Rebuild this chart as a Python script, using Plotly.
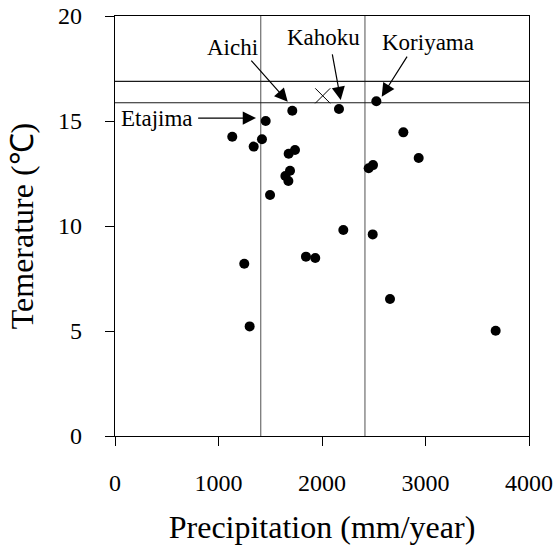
import plotly.graph_objects as go

# Site data: precipitation (mm/year) and temperature (°C)
precip = [1713, 2164, 2525, 1456, 1133, 1340, 1420, 2786, 2934, 1678, 1739,
          2451, 2493, 1691, 1646, 1675, 1498, 2206, 2490, 1249, 1845, 1935,
          2657, 1301, 3678]
temp = [15.49, 15.57, 15.94, 15.0, 14.25, 13.78, 14.13, 14.46, 13.24, 13.44,
        13.62, 12.75, 12.9, 12.63, 12.38, 12.14, 11.48, 9.81, 9.6, 8.2, 8.54,
        8.48, 6.52, 5.22, 5.01]

# Reference point (cross)
ref_precip = [2007]
ref_temp = [16.2]

# Reference ranges
vlines = [1408, 2415]
hlines = [15.87, 16.89]

x_ticks = [0, 1000, 2000, 3000, 4000]
y_ticks = [0, 5, 10, 15, 20]

# Labeled sites: name, label position, arrow tail, arrow tip
labels = ["Aichi", "Kahoku", "Koriyama", "Etajima"]
label_pos = [(1140, 18.52), (2019, 19.0), (3024, 18.76), (406, 15.14)]
arrow_tail = [(1304, 17.95), (2097, 18.24), (2831, 18.14), (789, 15.14)]
arrow_tip = [(1669, 15.92), (2181, 16.0), (2577, 16.16), (1362, 15.14)]

FONT = "Liberation Serif, Times New Roman, serif"

fig = go.Figure()

fig.add_trace(go.Scatter(
    x=precip, y=temp, mode="markers",
    marker=dict(color="black", size=10, symbol="circle"),
    showlegend=False, cliponaxis=False))

fig.add_trace(go.Scatter(
    x=ref_precip, y=ref_temp, mode="markers",
    marker=dict(color="black", size=15, symbol="x-thin-open",
                line=dict(color="black", width=1)),
    showlegend=False))

for v in vlines:
    fig.add_shape(type="line", x0=v, x1=v, y0=0, y1=20, xref="x", yref="y",
                  line=dict(color="#6e6e6e", width=1.2), layer="below")
for h in hlines:
    fig.add_shape(type="line", x0=0, x1=4000, y0=h, y1=h, xref="x", yref="y",
                  line=dict(color="#1a1a1a", width=1.2), layer="below")

for name, (lx, ly), (tx, ty), (hx, hy) in zip(labels, label_pos, arrow_tail, arrow_tip):
    fig.add_annotation(x=lx, y=ly, xref="x", yref="y", text=name,
                       showarrow=False, font=dict(family=FONT, size=23, color="black"))
    fig.add_annotation(x=hx, y=hy, ax=tx, ay=ty, xref="x", yref="y",
                       axref="x", ayref="y", text="", showarrow=True,
                       arrowhead=2, arrowsize=2.2, arrowwidth=1.2,
                       arrowcolor="black", standoff=0, startstandoff=0)

fig.update_layout(
    template="none",
    width=560, height=545,
    margin=dict(l=115, r=31, t=16, b=109),
    paper_bgcolor="white", plot_bgcolor="white",
    font=dict(family=FONT, color="black", size=24),
)

fig.update_xaxes(
    range=[0, 4000], tickvals=x_ticks, ticktext=[str(v) for v in x_ticks],
    showgrid=False, zeroline=False, showline=True, linecolor="black",
    linewidth=1.2, mirror=True, ticks="outside", ticklen=9, tickwidth=1.2,
    tickcolor="black", ticklabelstandoff=16,
    tickfont=dict(family=FONT, size=24, color="black"),
    title=dict(text="Precipitation (mm/year)",
               font=dict(family=FONT, size=32, color="black"), standoff=24))

fig.update_yaxes(
    range=[0, 20], tickvals=y_ticks, ticktext=[str(v) for v in y_ticks],
    showgrid=False, zeroline=False, showline=True, linecolor="black",
    linewidth=1.2, mirror=True, ticks="outside", ticklen=9, tickwidth=1.2,
    tickcolor="black", ticklabelstandoff=18,
    tickfont=dict(family=FONT, size=24, color="black"),
    title=dict(text="Temerature (\u2103)",
               font=dict(family=FONT, size=32, color="black"), standoff=14))

fig.write_html("out.html")
